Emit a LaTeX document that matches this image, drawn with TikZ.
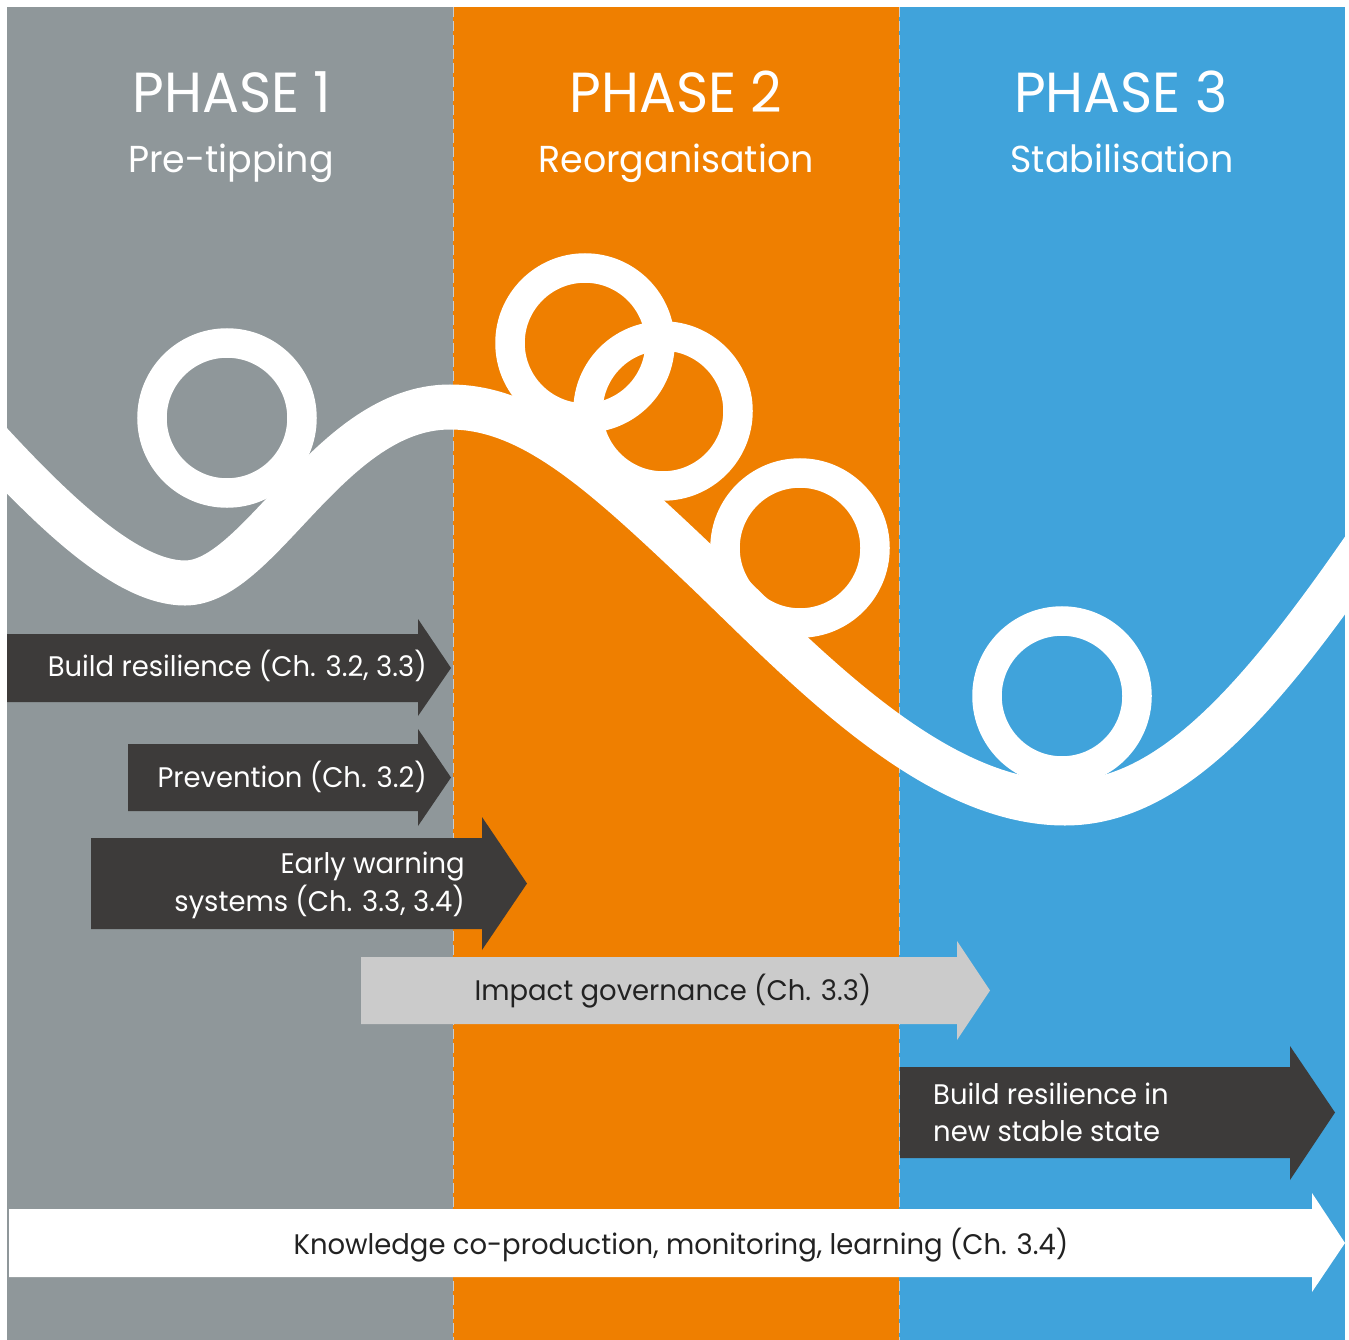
\documentclass[tikz,border=0pt]{standalone}
\usepackage{fontspec}
\setmainfont[FakeStretch=0.97]{Poppins}
\definecolor{pgray}{HTML}{8F979A}
\definecolor{porange}{HTML}{EF7F00}
\definecolor{pblue}{HTML}{40A3DB}
\definecolor{pdark}{HTML}{3D3B3A}
\definecolor{plight}{HTML}{CBCBCB}
\definecolor{pdash}{HTML}{C9CDD0}
\definecolor{ptext}{HTML}{222222}
\tikzset{
  band/.style={draw=white, line width=45pt},
  ring/.style={draw=white, line width=29.5pt},
  divider/.style={draw=pdash, line width=1.6pt, dash pattern=on 10pt off 4pt},
  phasetitle/.style={text=white, font=\fontsize{56.5}{60}\selectfont, inner sep=0pt, anchor=base},
  phasesub/.style={text=white, font=\fontsize{37.5}{42}\selectfont, inner sep=0pt, anchor=base},
  lbl/.style={text=white, font=\fontsize{28.3}{37}\selectfont, inner sep=0pt},
  lbldark/.style={text=ptext, font=\fontsize{28.3}{37}\selectfont, inner sep=0pt}
}
\begin{document}
\begin{tikzpicture}[x=1pt,y=-1pt]
\useasboundingbox (0,0) rectangle (1349,1340);
% panels
\fill[pgray] (7,7) rectangle (453,1340);
\fill[porange] (453,7) rectangle (899,1340);
\fill[pblue] (899,7) rectangle (1345,1340);
\draw[divider] (453.5,7) -- (453.5,1340);
\draw[divider] (899.5,7) -- (899.5,1340);
% titles
\node[phasetitle] (t1) at (232,113) {PHASE 1};
\node[phasesub] (s1) at (231,173) {Pre-tipping};
\node[phasetitle] (t2) at (676,113) {PHASE 2};
\node[phasesub] (s2) at (676,173) {Reorganisation};
\node[phasetitle] (t3) at (1121,113) {PHASE 3};
\node[phasesub] (s3) at (1122,173) {Stabilisation};
% landscape curve and balls
\begin{scope}
\clip (7,7) rectangle (1345,1340);
\draw[band] (-20,432) .. controls (60,520) and (130,583) .. (185,583)
  .. controls (260,583) and (330,407) .. (450,407)
  .. controls (530,407) and (600,470) .. (700,565)
  .. controls (800,660) and (930,803) .. (1065,803)
  .. controls (1170,803) and (1260,700) .. (1370,540);
\end{scope}
\draw[ring] (227,418) circle (75);
\draw[ring] (585,343) circle (75);
\draw[ring] (663,411) circle (75);
\draw[ring] (800,548) circle (75);
\draw[ring] (1062,696) circle (75);
% arrows
\fill[pdark] (7,634) -- (418,634) -- (418,619) -- (451,668) -- (418,716) -- (418,702) -- (7,702) -- cycle;
\fill[pdark] (128,744) -- (418,744) -- (418,729) -- (451,777.5) -- (418,826) -- (418,811) -- (128,811) -- cycle;
\fill[pdark] (91,838) -- (482,838) -- (482,817) -- (527,883.5) -- (482,950) -- (482,929) -- (91,929) -- cycle;
\fill[plight] (361,957) -- (957,957) -- (957,941) -- (990,990.5) -- (957,1040) -- (957,1024) -- (361,1024) -- cycle;
\fill[pdark] (900,1067) -- (1290,1067) -- (1290,1046) -- (1335,1112.5) -- (1290,1180) -- (1290,1158) -- (900,1158) -- cycle;
\fill[white] (9,1209) -- (1312,1209) -- (1312,1193) -- (1345,1243) -- (1312,1292) -- (1312,1277) -- (9,1277) -- cycle;
% arrow labels
\node[lbl, anchor=base east] (a1) at (427,676) {Build resilience (Ch. 3.2, 3.3)};
\node[lbl, anchor=base east] (a2) at (427,787) {Prevention (Ch. 3.2)};
\node[lbl, anchor=base east] (a3a) at (465,873) {Early warning};
\node[lbl, anchor=base east] (a3b) at (465,911) {systems (Ch. 3.3, 3.4)};
\node[lbldark, anchor=base] (a4) at (673,1000) {Impact governance (Ch. 3.3)};
\node[lbl, anchor=base west] (a5a) at (933,1104) {Build resilience in};
\node[lbl, anchor=base west] (a5b) at (933,1141) {new stable state};
\node[lbldark, anchor=base] (a6) at (681,1254) {Knowledge co-production, monitoring, learning (Ch. 3.4)};
\end{tikzpicture}
\end{document}
